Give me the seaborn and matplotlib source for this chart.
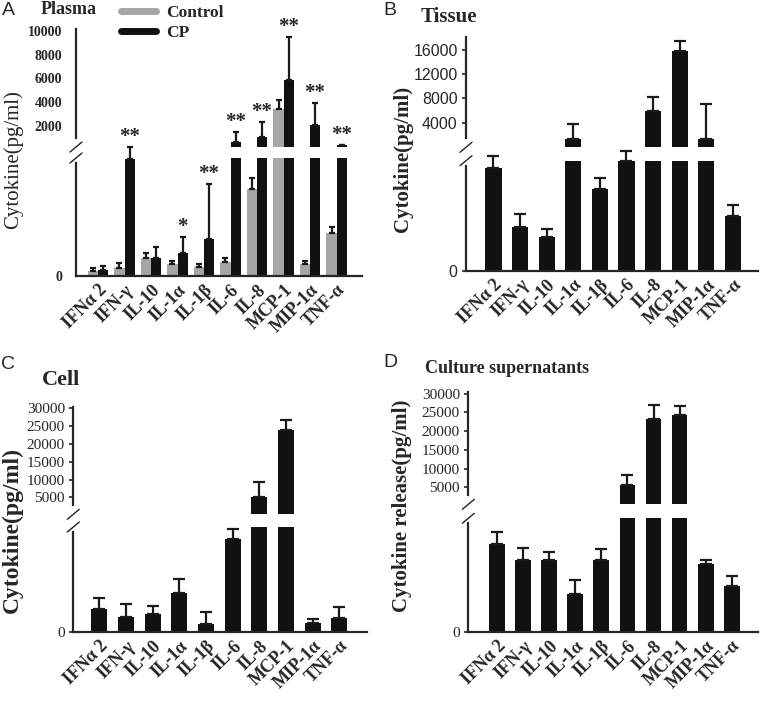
import matplotlib.pyplot as plt
import numpy as np
import pandas as pd
import seaborn as sns
from matplotlib.lines import Line2D

cytokines = ['IFNα 2', 'IFN-γ', 'IL-10', 'IL-1α', 'IL-1β', 'IL-6', 'IL-8', 'MCP-1', 'MIP-1α', 'TNF-α']

# A - plasma, control vs CP (pg/ml)
plasma_control = [17, 27, 62, 41, 29, 47, 294, 3460, 41, 145]
plasma_control_err = [10, 16, 15, 11, 11, 13, 37, 690, 11, 22]
plasma_cp = [19, 395, 62, 77, 125, 650, 1110, 5860, 2080, 420]
plasma_cp_err = [16, 43, 35, 56, 186, 880, 1250, 3600, 1820, 0]
plasma_stars = ['', '**', '', '*', '**', '**', '**', '**', '**', '**']

# B - tissue
tissue = [936, 397, 304, 1370, 740, 995, 5870, 15770, 1370, 500]
tissue_err = [109, 116, 75, 2475, 100, 93, 2380, 1720, 5730, 95]

# C - cell
cell = [216, 143, 168, 368, 79, 889, 5080, 23830, 89, 136]
cell_err = [111, 124, 76, 140, 108, 92, 4220, 2810, 38, 102]

# D - culture supernatants
supernatant = [777, 631, 631, 332, 631, 5610, 23200, 24200, 596, 402]
supernatant_err = [103, 111, 73, 128, 102, 2560, 3800, 2600, 35, 91]

plasma_ticks = [2000, 4000, 6000, 8000, 10000]
tissue_ticks = [4000, 8000, 12000, 16000]
cell_ticks = [5000, 10000, 15000, 20000, 25000, 30000]

GRAY = '#a6a6a6'
BLACK = '#111111'
SERIF = 'Liberation Serif'
SANS = 'Liberation Sans'

sns.set_style('white')
plt.rcParams['font.family'] = [SERIF, 'DejaVu Sans']

W, H = 762, 704
fig = plt.figure(figsize=(W / 100, H / 100), dpi=100)


def px_rect(x0, x1, y0, y1):
    return [x0 / W, 1 - y1 / H, (x1 - x0) / W, (y1 - y0) / H]


def long_df(groups):
    rows = []
    for name, vals, errs in groups:
        for c, v, e in zip(cytokines, vals, errs):
            rows.append({'cytokine': c, 'group': name, 'value': v, 'err': e})
    return pd.DataFrame(rows)


def panel(df, palette, xs, top_ys, bot_ys, xlim, low_max, up_lim, ticks,
          width, cap, tick_font, tick_size, tick_weight, tick_len, tick_pad):
    ax_top = fig.add_axes(px_rect(*xs, *top_ys))
    ax_bot = fig.add_axes(px_rect(*xs, *bot_ys))
    groups = list(palette)
    top_df = df.assign(value=df['value'].where(df['value'] > low_max, 0))
    for ax, d in ((ax_bot, df), (ax_top, top_df)):
        sns.barplot(data=d, x='cytokine', y='value', hue='group', order=cytokines,
                    hue_order=groups, palette=palette, width=width, errorbar=None,
                    saturation=1, linewidth=0, legend=False, ax=ax)
    bw = width / len(groups)
    xpos = {}
    for k, g in enumerate(groups):
        sub = df[df['group'] == g].set_index('cytokine').loc[cytokines]
        x = np.arange(len(cytokines)) - width / 2 + bw * (k + 0.5)
        xpos[g] = x
        vals = sub['value'].values
        errs = sub['err'].values
        low = vals <= low_max
        for ax, m in ((ax_bot, low), (ax_top, ~low)):
            if m.sum() == 0:
                continue
            eb = ax.errorbar(x[m], vals[m], yerr=[np.zeros(m.sum()), errs[m]], fmt='none',
                             ecolor='#1a1a1a', elinewidth=1.6, capsize=cap, capthick=1.6, zorder=3)
            for art in eb.get_children():
                art.set_clip_on(False)

    ax_bot.set_ylim(0, low_max)
    ax_top.set_ylim(*up_lim)
    for ax in (ax_top, ax_bot):
        ax.set_xlim(*xlim)
        ax.set_xlabel('')
        ax.set_ylabel('')
        ax.spines['top'].set_visible(False)
        ax.spines['right'].set_visible(False)
        ax.spines['left'].set_linewidth(1.6)
        ax.spines['bottom'].set_linewidth(1.6)
        ax.tick_params(axis='y', length=tick_len, width=1.2, pad=tick_pad, left=True)
    ax_top.spines['bottom'].set_visible(False)
    ax_top.tick_params(axis='x', bottom=False, labelbottom=False)
    ax_top.set_yticks(ticks, labels=[str(t) for t in ticks])
    ax_bot.set_yticks([0], labels=['0'])
    for ax in (ax_top, ax_bot):
        for lbl in ax.get_yticklabels():
            lbl.set_fontfamily(tick_font)
            lbl.set_fontsize(tick_size)
            lbl.set_fontweight(tick_weight)
    ax_bot.set_xticks(range(len(cytokines)))
    ax_bot.set_xticklabels(cytokines, rotation=45, ha='right', rotation_mode='anchor',
                           fontfamily=SERIF, fontweight='bold', fontsize=13)
    ax_bot.tick_params(axis='x', length=0, pad=4)

    # broken axis: shorten spines and draw two slashes
    h_top = top_ys[1] - top_ys[0]
    h_bot = bot_ys[1] - bot_ys[0]
    u0, u1 = up_lim
    ax_top.spines['left'].set_bounds(u0 + (u1 - u0) * 9 / h_top, u1)
    ax_bot.spines['left'].set_bounds(0, low_max * (1 - 5 / h_bot))
    for y in (top_ys[1], bot_ys[0]):
        fig.add_artist(Line2D([(xs[0] - 6) / W, (xs[0] + 6) / W],
                              [1 - (y + 5) / H, 1 - (y - 5) / H],
                              transform=fig.transFigure, color='#222222', lw=1.0))
    return ax_top, ax_bot, xpos


# ---- A: plasma
df_a = long_df([('Control', plasma_control, plasma_control_err), ('CP', plasma_cp, plasma_cp_err)])
a_top, a_bot, a_x = panel(df_a, {'Control': GRAY, 'CP': BLACK}, (76, 362), (29.3, 147), (158, 276),
                          (-0.83, 9.96), 400, (240, 10120), plasma_ticks, 0.76, 2.5,
                          SERIF, 10, 'bold', 0, 10)
for i, s in enumerate(plasma_stars):
    if not s:
        continue
    top = plasma_cp[i] + plasma_cp_err[i]
    ax = a_bot if plasma_cp[i] <= 400 else a_top
    ax.annotate(s, (a_x['CP'][i], top), xytext=(0, 0), textcoords='offset points',
                ha='center', va='bottom', fontsize=15, fontweight='bold',
                fontfamily=SERIF, annotation_clip=False)
a_top.legend(handles=[Line2D([], [], color=GRAY, lw=5), Line2D([], [], color=BLACK, lw=5)],
             labels=['Control', 'CP'], loc='upper left', bbox_to_anchor=(114 / W, 1 + 2 / H),
             bbox_transform=fig.transFigure, frameon=False, handlelength=2.0, handletextpad=0.6,
             labelspacing=0.2, borderaxespad=0, prop={'family': SERIF, 'weight': 'bold', 'size': 12.5})

# ---- B: tissue
df_b = long_df([('Tissue', tissue, tissue_err)])
panel(df_b, {'Tissue': BLACK}, (466, 757.7), (36.7, 147.3), (160.7, 270.7),
      (-1.03, 9.93), 1000, (-60, 18200), tissue_ticks, 0.61, 4,
      SANS, 11.5, 'normal', 3, 3)

# ---- C: cell
df_c = long_df([('Cell', cell, cell_err)])
panel(df_c, {'Cell': BLACK}, (73.3, 366.7), (407, 514.3), (527, 632),
      (-0.98, 10.03), 1000, (225, 30365), cell_ticks, 0.6, 4,
      SERIF, 11, 'normal', 3, 3)

# ---- D: culture supernatants
df_d = long_df([('Sup', supernatant, supernatant_err)])
panel(df_d, {'Sup': BLACK}, (468.3, 757.7), (392, 504.3), (518.3, 632),
      (-1.11, 10.0), 1000, (466, 30400), cell_ticks, 0.61, 4,
      SERIF, 11, 'normal', 3, 3)

# panel letters, titles, y labels
for letter, x, y in (('A', 2, 2), ('B', 383, 2), ('C', 1, 356), ('D', 383, 354)):
    fig.text(x / W, 1 - y / H, letter, ha='left', va='top', fontsize=14, fontfamily=SANS)
for title, x, y, size in (('Plasma', 41, 1, 13), ('Tissue', 421, 7, 15),
                          ('Cell', 42, 370, 16), ('Culture supernatants', 425, 360, 13)):
    fig.text(x / W, 1 - y / H, title, ha='left', va='top', fontsize=size,
             fontweight='bold', fontfamily=SERIF)
for label, x, y, weight, size in (('Cytokine(pg/ml)', 13, 160, 'normal', 15),
                                  ('Cytokine(pg/ml)', 403, 159, 'bold', 15),
                                  ('Cytokine(pg/ml)', 12, 530, 'bold', 17),
                                  ('Cytokine release(pg/ml)', 402, 506, 'bold', 15)):
    fig.text(x / W, 1 - y / H, label, rotation=90, ha='center', va='center',
             fontsize=size, fontweight=weight, fontfamily=SERIF)

fig.savefig('out.png', dpi=100)
